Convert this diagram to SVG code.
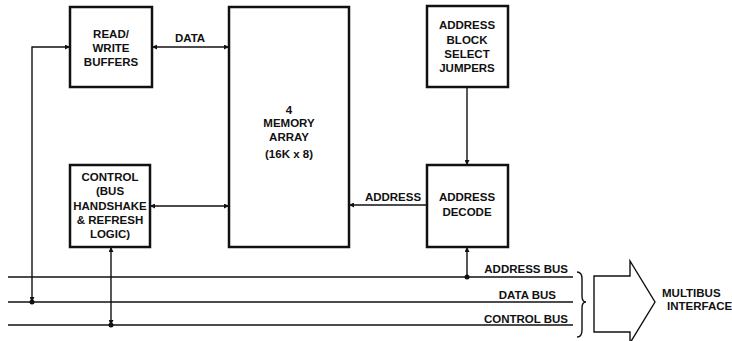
<svg xmlns="http://www.w3.org/2000/svg" width="732" height="341" viewBox="0 0 732 341">
<style>
.box{fill:#fff;stroke:#111;stroke-width:2.5}
.ln{fill:none;stroke:#111;stroke-width:1.4}
.t{font-family:"Liberation Sans",Arial,sans-serif;font-weight:bold;font-size:11.5px;fill:#111;text-anchor:middle}
.l{text-anchor:start}
.r{text-anchor:end}
</style>
<defs>
<marker id="ah" viewBox="0 0 10 10" refX="10" refY="5" markerWidth="7" markerHeight="5" markerUnits="userSpaceOnUse" orient="auto-start-reverse">
<path d="M0,0 L10,5 L0,10 Z" fill="#111"/>
</marker>
</defs>
<rect width="732" height="341" fill="#fff"/>
<g id="connectors">
<line class="ln" x1="8" y1="277" x2="573" y2="277"/>
<line class="ln" x1="8" y1="302" x2="573" y2="302"/>
<line class="ln" x1="8" y1="325" x2="573" y2="325"/>
<path class="ln" d="M32,302 L32,47 L70,47" marker-start="url(#ah)" marker-end="url(#ah)"/>
<line class="ln" x1="152" y1="47" x2="229" y2="47" marker-start="url(#ah)" marker-end="url(#ah)"/>
<line class="ln" x1="150" y1="206" x2="229" y2="206" marker-start="url(#ah)" marker-end="url(#ah)"/>
<line class="ln" x1="111" y1="247" x2="111" y2="325" marker-start="url(#ah)" marker-end="url(#ah)"/>
<line class="ln" x1="467" y1="87" x2="467" y2="165" marker-end="url(#ah)"/>
<line class="ln" x1="427" y1="205" x2="349" y2="205" marker-end="url(#ah)"/>
<line class="ln" x1="467" y1="277" x2="467" y2="247" marker-end="url(#ah)"/>
<circle cx="32" cy="302" r="2.5" fill="#111"/>
<circle cx="111" cy="325" r="2.5" fill="#111"/>
<circle cx="467" cy="277" r="2.5" fill="#111"/>
<text class="t" x="190" y="42">DATA</text>
<text class="t" x="393" y="201">ADDRESS</text>
<text class="t r" x="568" y="273">ADDRESS BUS</text>
<text class="t r" x="556" y="299">DATA BUS</text>
<text class="t r" x="568" y="323">CONTROL BUS</text>
<path class="ln" d="M577,272 Q582,272 582,279 L582,296 Q582,302 586,302 Q582,302 582,308 L582,330 Q582,337 577,337"/>
<polygon class="ln" points="594,276 630,276 630,261 655,302 630,343 630,332 594,332"/>
<text class="t l" x="662" y="297">MULTIBUS</text>
<text class="t l" x="667" y="310" font-size="10.5">INTERFACE</text>
</g>
<g id="rw">
<rect class="box" x="70" y="7" width="82" height="80"/>
<text class="t" x="111" y="38">READ/</text>
<text class="t" x="111" y="52">WRITE</text>
<text class="t" x="111" y="66">BUFFERS</text>
</g>
<g id="mem">
<rect class="box" x="229" y="7" width="120" height="240"/>
<text class="t" x="289" y="114">4</text>
<text class="t" x="289" y="127">MEMORY</text>
<text class="t" x="289" y="141">ARRAY</text>
<text class="t" x="289" y="158">(16K x 8)</text>
</g>
<g id="ctrl">
<rect class="box" x="70" y="165" width="80" height="82"/>
<text class="t" x="110" y="181">CONTROL</text>
<text class="t" x="110" y="195">(BUS</text>
<text class="t" x="110" y="210">HANDSHAKE</text>
<text class="t" x="110" y="224">&amp; REFRESH</text>
<text class="t" x="110" y="238">LOGIC)</text>
</g>
<g id="jumpers">
<rect class="box" x="427" y="6" width="81" height="81"/>
<text class="t" x="467" y="29">ADDRESS</text>
<text class="t" x="467" y="44">BLOCK</text>
<text class="t" x="467" y="58">SELECT</text>
<text class="t" x="467" y="72">JUMPERS</text>
</g>
<g id="decode">
<rect class="box" x="427" y="165" width="81" height="82"/>
<text class="t" x="467" y="201">ADDRESS</text>
<text class="t" x="467" y="216">DECODE</text>
</g>
</svg>
